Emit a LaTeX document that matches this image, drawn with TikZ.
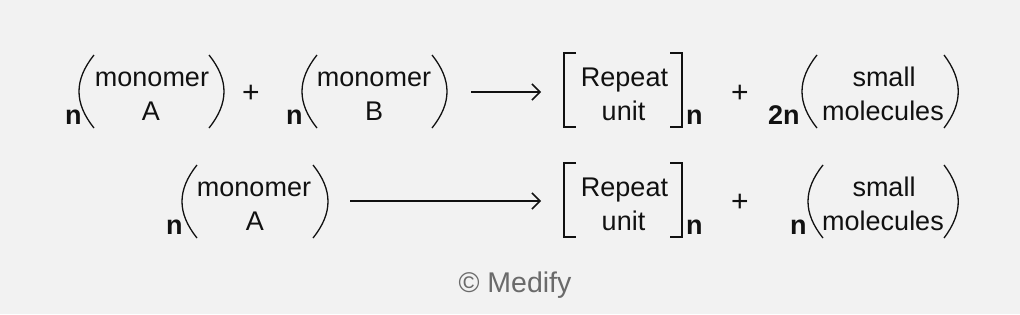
\documentclass[tikz,border=0pt]{standalone}
\usepackage{fontspec}
\setmainfont{Liberation Sans}
\usetikzlibrary{arrows.meta}
\definecolor{bgc}{HTML}{F2F2F2}
\definecolor{inkc}{HTML}{111111}
\definecolor{grayc}{HTML}{6A6A6A}
\tikzset{
  txt/.style={font=\fontsize{27}{30}\selectfont, inner sep=0pt, anchor=base, text=inkc},
  bn/.style={font=\fontsize{27}{30}\selectfont\bfseries, inner sep=0pt, anchor=base west, text=inkc},
  plus/.style={font=\fontsize{30}{32}\selectfont, inner sep=0pt, anchor=base, text=inkc},
  par/.style={draw=inkc, line width=1.3pt},
  brk/.style={draw=inkc, line width=1.3pt},
  rxn/.style={draw=inkc, line width=1.5pt, -{Straight Barb[length=8pt,width=16pt,line width=1.5pt]}},
}
\begin{document}
\begin{tikzpicture}[x=1pt,y=-1pt]
\fill[bgc] (0,0) rectangle (1020,314);
\useasboundingbox (0,0) rectangle (1020,314);

% ---------- Row 1 ----------
\node[bn] (r1n1) at (65,124) {n};
\draw[par] (94,55) .. controls (74,80) and (74,103) .. (94,128);
\node[txt] (r1m1) at (152,86) {monomer};
\node[txt] (r1a) at (151,120) {A};
\draw[par] (209,55) .. controls (229,80) and (229,103) .. (209,128);
\node[plus] (r1p1) at (251,102.5) {+};
\node[bn] (r1n2) at (286,124) {n};
\draw[par] (317,55) .. controls (297,80) and (297,103) .. (317,128);
\node[txt] (r1m2) at (374,86) {monomer};
\node[txt] (r1b) at (374,120) {B};
\draw[par] (432,55) .. controls (452,80) and (452,103) .. (432,128);
\coordinate (r1s) at (471,92);
\coordinate (r1e) at (541,92);
\draw[rxn] (r1s) -- (r1e);
\draw[brk] (576,53) -- (564,53) -- (564,127) -- (576,127);
\node[txt] (r1rep) at (624.5,86) {Repeat};
\node[txt] (r1unit) at (623.5,120) {unit};
\draw[brk] (670,53) -- (682,53) -- (682,127) -- (670,127);
\node[bn] (r1sub) at (686,124) {n};
\node[plus] (r1p2) at (740,102.5) {+};
\node[bn] (r1n3) at (768,124) {2n};
\draw[par] (817,55) .. controls (797,80) and (797,103) .. (817,128);
\node[txt] (r1sm) at (884,86) {small};
\node[txt] (r1mol) at (883,120) {molecules};
\draw[par] (944,55) .. controls (963,80) and (963,103) .. (944,128);

% ---------- Row 2 ----------
\node[bn] (r2n1) at (166,234) {n};
\draw[par] (197,165) .. controls (177,190) and (177,213) .. (197,238);
\node[txt] (r2m1) at (254,196) {monomer};
\node[txt] (r2a) at (255,230) {A};
\draw[par] (313,165) .. controls (333,190) and (333,213) .. (313,238);
\coordinate (r2s) at (350,201);
\coordinate (r2e) at (541,201);
\draw[rxn] (r2s) -- (r2e);
\draw[brk] (576,163) -- (564,163) -- (564,237) -- (576,237);
\node[txt] (r2rep) at (624.5,196) {Repeat};
\node[txt] (r2unit) at (623.5,230) {unit};
\draw[brk] (670,163) -- (682,163) -- (682,237) -- (670,237);
\node[bn] (r2sub) at (686,234) {n};
\node[plus] (r2p) at (740,211.5) {+};
\node[bn] (r2n2) at (790,234) {n};
\draw[par] (823,165) .. controls (803,190) and (803,213) .. (823,238);
\node[txt] (r2sm) at (884,196) {small};
\node[txt] (r2mol) at (883,230) {molecules};
\draw[par] (944,165) .. controls (963,190) and (963,213) .. (944,238);

% ---------- credit ----------
\node[font=\fontsize{28.5}{30}\selectfont, inner sep=0pt, anchor=base, text=grayc] (credit) at (515,292) {© Medify};
\end{tikzpicture}
\end{document}
